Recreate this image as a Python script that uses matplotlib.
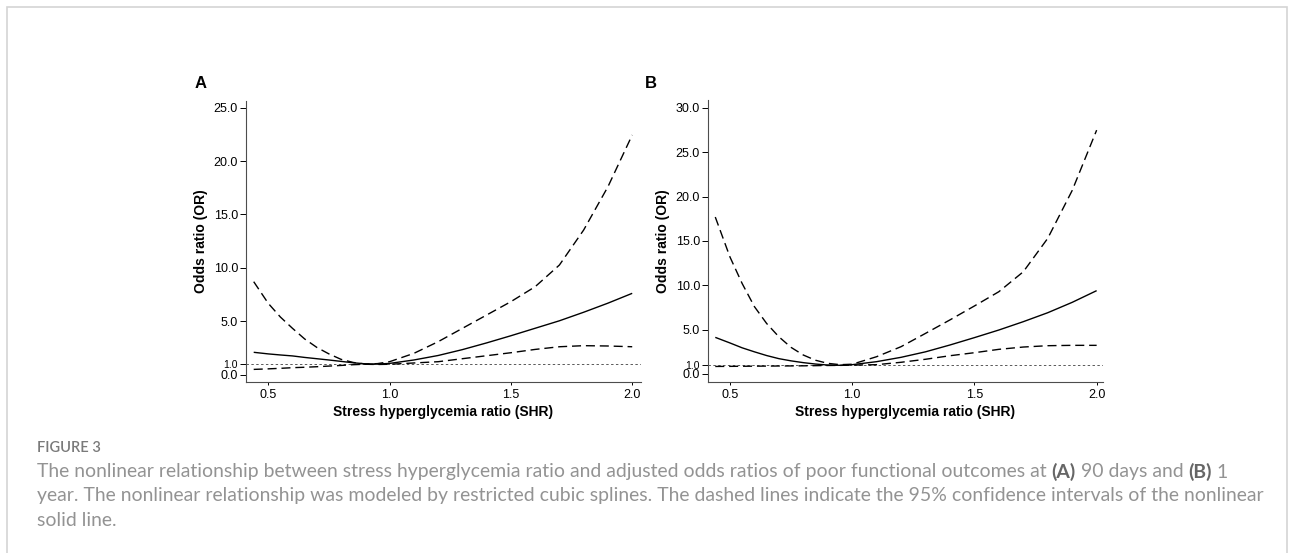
"""Figure 3 - RCS odds ratios of poor outcome vs stress hyperglycemia ratio."""

import matplotlib

matplotlib.use("Agg")
import matplotlib.pyplot as plt
from matplotlib.patches import Rectangle

# ---- data ------------------------------------------------------------------
# panel A: 90 days
shr_a = [0.44, 0.5, 0.55, 0.6, 0.65, 0.7, 0.75, 0.8, 0.85, 0.9, 0.95, 1.0,
         1.1, 1.2, 1.3, 1.4, 1.5, 1.6, 1.7, 1.8, 1.9, 2.0]
or_a = [2.10, 1.95, 1.85, 1.76, 1.62, 1.50, 1.38, 1.25, 1.12, 1.02, 1.0, 1.06,
        1.38, 1.80, 2.35, 2.98, 3.65, 4.35, 5.05, 5.85, 6.70, 7.62]
upper_a = [8.71, 6.68, 5.40, 4.34, 3.35, 2.56, 1.95, 1.44, 1.15, 1.0, 1.04, 1.22,
           2.0, 3.09, 4.34, 5.59, 6.84, 8.24, 10.27, 13.55, 17.6, 22.44]
lower_a = [0.50, 0.55, 0.60, 0.66, 0.70, 0.75, 0.81, 0.87, 0.94, 0.98, 0.96, 0.98,
           1.10, 1.22, 1.50, 1.78, 2.06, 2.37, 2.62, 2.72, 2.69, 2.62]

# panel B: 1 year
shr_b = [0.44, 0.5, 0.55, 0.6, 0.65, 0.7, 0.75, 0.8, 0.85, 0.9, 0.95, 1.0,
         1.1, 1.2, 1.3, 1.4, 1.5, 1.6, 1.7, 1.8, 1.9, 2.0]
or_b = [4.13, 3.50, 2.95, 2.50, 2.08, 1.73, 1.48, 1.28, 1.12, 1.01, 0.98, 1.05,
        1.39, 1.88, 2.50, 3.27, 4.10, 4.96, 5.90, 6.91, 8.08, 9.40]
upper_b = [17.7, 13.2, 10.2, 7.6, 5.7, 4.2, 3.0, 2.14, 1.55, 1.2, 1.05, 1.1,
           1.95, 3.08, 4.58, 6.10, 7.67, 9.28, 11.53, 15.3, 20.7, 27.5]
lower_b = [0.85, 0.86, 0.87, 0.88, 0.89, 0.90, 0.91, 0.92, 0.94, 0.96, 0.97, 1.0,
           1.05, 1.32, 1.66, 2.06, 2.40, 2.78, 3.04, 3.19, 3.23, 3.23]

x_ticks = [0.5, 1.0, 1.5, 2.0]
y_ticks_a = [0, 1, 5, 10, 15, 20, 25]
y_ticks_b = [0, 1, 5, 10, 15, 20, 25, 30]

caption_head = "FIGURE 3"
caption_line1 = [
    ("The nonlinear relationship between stress hyperglycemia ratio and adjusted "
     "odds ratios of poor functional outcomes at ", "normal"),
    ("(A)", "bold"),
    (" 90 days and ", "normal"),
    ("(B)", "bold"),
    (" 1", "normal"),
]
caption_line2 = ("year. The nonlinear relationship was modeled by restricted cubic "
                 "splines. The dashed lines indicate the 95% confidence intervals "
                 "of the nonlinear")
caption_line3 = "solid line."

W, H = 1293, 553
plt.rcParams["font.family"] = ["Liberation Sans", "DejaVu Sans"]


def draw_panel(ax, x, mid, up, lo, yticks, ylim, xlim):
    ax.axhline(1.0, color="0.35", lw=0.7, ls=(0, (2.5, 2.5)), zorder=1)
    ax.plot(x, mid, color="black", lw=1.0, solid_capstyle="butt")
    ax.plot(x, up, color="black", lw=1.0, ls=(0, (6.5, 3.5)))
    ax.plot(x, lo, color="black", lw=1.0, ls=(0, (6.5, 3.5)))
    ax.set_xlim(*xlim)
    ax.set_ylim(*ylim)
    ax.tick_params(axis="y", length=4, width=0.7, pad=1.5, labelsize=9)
    ax.tick_params(axis="x", length=2.5, width=0.7, pad=2.5, labelsize=9)
    ax.set_xticks(x_ticks, [f"{v:.1f}" for v in x_ticks], fontsize=9)
    ax.set_yticks(yticks, [f"{v:.1f}" for v in yticks], fontsize=9)
    for side in ("top", "right"):
        ax.spines[side].set_visible(False)
    for side in ("left", "bottom"):
        ax.spines[side].set_linewidth(0.8)
        ax.spines[side].set_color("0.3")
    ax.set_xlabel("Stress hyperglycemia ratio (SHR)", fontsize=10,
                  fontweight="bold", labelpad=3)
    ax.set_ylabel("Odds ratio (OR)", fontsize=10, fontweight="bold", labelpad=4)


fig = plt.figure(figsize=(W / 100, H / 100), dpi=100)

ax_a = fig.add_axes([245.7 / W, 1 - 382 / H, 395 / W, 281.3 / H])
draw_panel(ax_a, shr_a, or_a, upper_a, lower_a, y_ticks_a,
           (-0.68, 25.65), (0.407, 2.035))
ax_b = fig.add_axes([707.7 / W, 1 - 381.7 / H, 395.3 / W, 281.7 / H])
draw_panel(ax_b, shr_b, or_b, upper_b, lower_b, y_ticks_b,
           (-0.87, 30.9), (0.409, 2.026))

fig.text(201 / W, 1 - 83 / H, "A", fontsize=12, fontweight="bold",
         ha="center", va="center")
fig.text(651 / W, 1 - 83 / H, "B", fontsize=12, fontweight="bold",
         ha="center", va="center")

# outer frame
fig.add_artist(Rectangle((7 / W, -0.05), 1280 / W, 1 - 7 / H + 0.05,
                         transform=fig.transFigure, fill=False,
                         edgecolor="#d4d4d4", lw=1.2))

# caption
cap_font = ["Lato", "DejaVu Sans"]
cap_color = "#939393"
x0 = 37
fig.text(x0 / W, 1 - 448 / H, caption_head, fontsize=10.5, family=cap_font,
         color="#7a7a7a", va="center", fontweight="semibold")

renderer = fig.canvas.get_renderer()
probe = fig.text(0, 0, caption_line2, fontsize=12, family=cap_font)
scale = 1226 / probe.get_window_extent(renderer).width
probe.remove()
cap_size = 12 * scale

xp = x0
for seg, weight in caption_line1:
    t = fig.text(xp / W, 1 - 472 / H, seg, fontsize=cap_size, family=cap_font,
                 color="#666666" if weight == "bold" else cap_color,
                 fontweight=weight, va="center")
    xp += t.get_window_extent(renderer).width
fig.text(x0 / W, 1 - 496 / H, caption_line2, fontsize=cap_size, family=cap_font,
         color=cap_color, va="center")
fig.text(x0 / W, 1 - 520 / H, caption_line3, fontsize=cap_size, family=cap_font,
         color=cap_color, va="center")

# the "1.0" reference tick is set smaller in the original
fig.canvas.draw()
for ax in (ax_a, ax_b):
    for lab in ax.get_yticklabels():
        if lab.get_text() == "1.0":
            lab.set_fontsize(7.5)

fig.savefig("out.png", dpi=100)
plt.close(fig)
